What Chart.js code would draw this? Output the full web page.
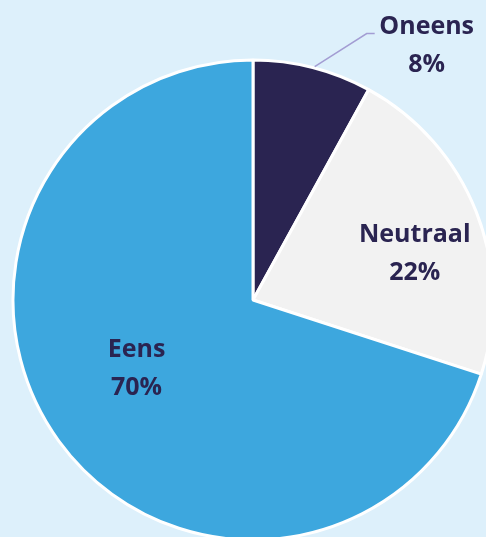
<!DOCTYPE html>
<html>
<head>
<meta charset="utf-8">
<script src="https://cdn.jsdelivr.net/npm/chart.js@4.4.1/dist/chart.umd.min.js"></script>
<style>
  html, body { margin: 0; padding: 0; background: #DDF0FB; }
  #wrap { width: 486px; height: 537px; overflow: hidden; }
</style>
</head>
<body>
<div id="wrap"><canvas id="pieChart" width="486" height="537"></canvas></div>
<script>
// data
var labels = ["Oneens", "Neutraal", "Eens"];
var values = [8, 22, 70];
var colors = ["#2A2451", "#F2F2F2", "#3DA7DE"];

// label placement per slice: r = fraction of radius, dx/dy nudges, leader = outside label
var labelPos = [
  { r: 1.0, dx: 114, dy: -22, leader: true },
  { r: 0.725, dx: 0, dy: 18 },
  { r: 0.60, dx: 0, dy: -16 }
];

var textColor = "#2A2451";

var sliceLabels = {
  id: 'sliceLabels',
  afterDatasetsDraw: function (chart) {
    var ctx = chart.ctx;
    var meta = chart.getDatasetMeta(0);
    ctx.save();
    ctx.font = "bold 25px 'Open Sans', sans-serif";
    ctx.fillStyle = textColor;
    ctx.textAlign = 'center';
    ctx.textBaseline = 'middle';
    meta.data.forEach(function (arc, i) {
      var p = arc.getProps(['x', 'y', 'startAngle', 'endAngle', 'outerRadius'], true);
      var mid = (p.startAngle + p.endAngle) / 2;
      var lp = labelPos[i];
      var ex = p.x + Math.cos(mid) * p.outerRadius * lp.r;
      var ey = p.y + Math.sin(mid) * p.outerRadius * lp.r;
      var tx = ex + lp.dx;
      var ty = ey + lp.dy;
      if (lp.leader) {
        // leader line from slice edge to label
        ctx.beginPath();
        ctx.strokeStyle = '#A39DD3';
        ctx.lineWidth = 1.5;
        ctx.moveTo(ex + 2, ey - 1);
        ctx.lineTo(ex + 54, ey - 34);
        ctx.lineTo(ex + 62, ey - 34);
        ctx.stroke();
      }
      ctx.fillText(labels[i], tx, ty - 19);
      ctx.fillText(values[i] + '%', tx, ty + 19);
    });
    ctx.restore();
  }
};

var ctxP = document.getElementById("pieChart").getContext('2d');
var myPieChart = new Chart(ctxP, {
  type: 'pie',
  data: {
    labels: labels,
    datasets: [{
      data: values,
      backgroundColor: colors,
      borderColor: '#FFFFFF',
      borderWidth: 3,
      clip: false
    }]
  },
  options: {
    responsive: false,
    animation: false,
    radius: 240,
    layout: { padding: { left: 20, top: 63, right: 0, bottom: 0 } },
    plugins: {
      legend: { display: false },
      tooltip: { enabled: false }
    }
  },
  plugins: [sliceLabels]
});
</script>
</body>
</html>
